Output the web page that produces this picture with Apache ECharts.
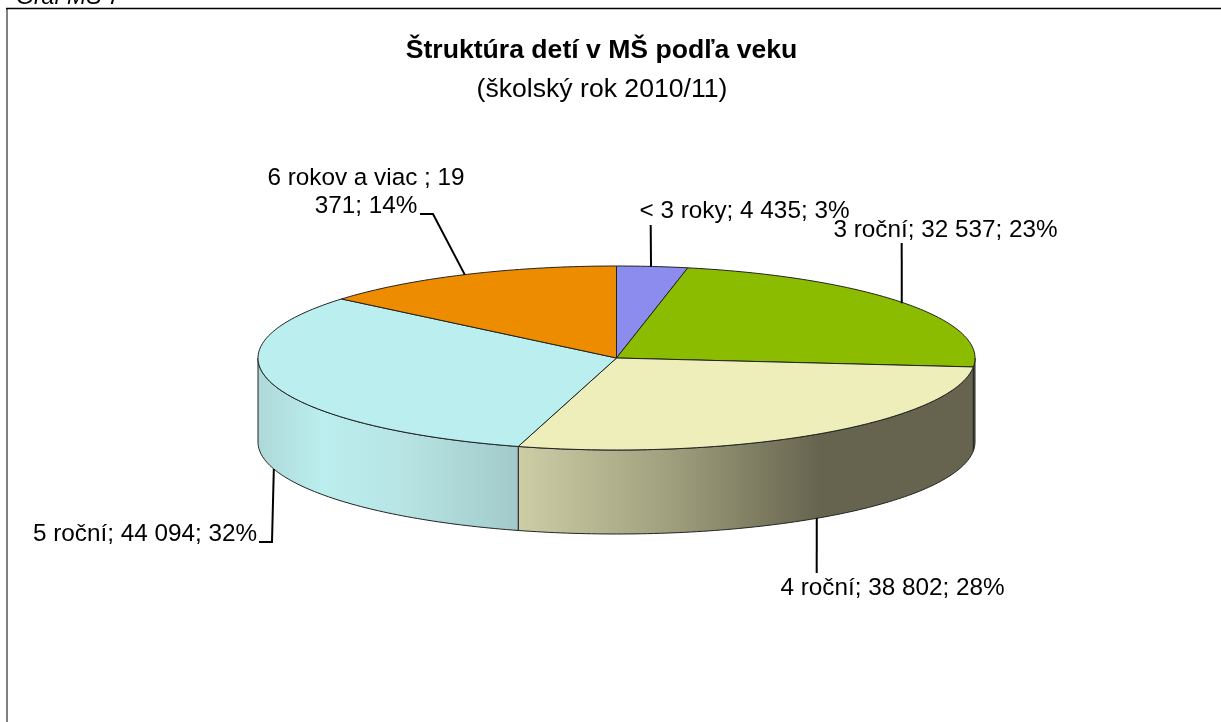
<!DOCTYPE html>
<html>
<head>
<meta charset="utf-8">
<title>Graf MŠ 7</title>
<style>
html,body{margin:0;padding:0;background:#fff;overflow:hidden}
#chart{width:1221px;height:722px}
</style>
<script src="https://cdn.jsdelivr.net/npm/echarts@6/dist/echarts.min.js"></script>
</head>
<body>
<div id="chart"></div>
<script>
var categories = ['< 3 roky', '3 roční', '4 roční', '5 roční', '6 rokov a viac '];
var values = [4435, 32537, 38802, 44094, 19371];
var topColors = ['#8c8cee', '#8cbc00', '#eeeebb', '#bbeeee', '#ee8c00'];

// label box anchor + leader line end, per slice (dx nudges the leader start on the rim)
var labelLayout = [
  {x: 744.5, y: 211, dx: -1.3, lx: [[650.7, 225]]},
  {x: 945.5, y: 230, dx: -3, lx: [[901.7, 243]]},
  {x: 892.5, y: 588, dx: -1.5, lx: [[816.7, 573]]},
  {x: 145, y: 534, dx: 0, lx: [[272, 542], [259, 542]]},
  {x: 366, y: 192, dx: 0, wrap: true, lx: [[433, 214], [420, 214]]}
];

var cx = 616.5, cy = 358, rx = 358.5, ry = 92, depth = 84;
var FONT = '"Liberation Sans", Arial, sans-serif';
var total = values.reduce(function (a, b) { return a + b; }, 0);

function pt(deg, dy) {
  var r = deg * Math.PI / 180;
  return [cx + rx * Math.sin(r), cy - ry * Math.cos(r) + (dy || 0)];
}
function arc(a0, a1, dy) {
  var pts = [], n = Math.max(2, Math.ceil(Math.abs(a1 - a0)));
  for (var i = 0; i <= n; i++) pts.push(pt(a0 + (a1 - a0) * i / n, dy));
  return pts;
}
function sideFill(i) {
  // shading of the outer wall, runs horizontally across the pie
  if (i === 3) {
    return new echarts.graphic.LinearGradient(258, 0, 518, 0, [
      {offset: 0, color: '#aed8d8'}, {offset: 0.25, color: '#bbeeee'},
      {offset: 0.55, color: '#b8e4e4'}, {offset: 1, color: '#a2caca'}
    ], true);
  }
  if (i === 2) {
    return new echarts.graphic.LinearGradient(518, 0, 820, 0, [
      {offset: 0, color: '#cdcda6'}, {offset: 0.5, color: '#a0a07e'}, {offset: 1, color: '#66644e'}
    ], true);
  }
  return '#66644e';
}
function labelText(i) {
  var v = String(values[i]).replace(/\B(?=(\d{3})+$)/g, ' ');
  if (labelLayout[i].wrap) v = v.replace(' ', '\n');
  return categories[i] + '; ' + v + '; ' + Math.round(values[i] / total * 100) + '%';
}

function renderItem(params, api) {
  var i = params.dataIndex;
  var before = values.slice(0, i).reduce(function (a, b) { return a + b; }, 0);
  var a0 = before / total * 360, a1 = a0 + api.value(0) / total * 360, mid = (a0 + a1) / 2;
  var kids = [];
  var s0 = Math.max(a0, 90), s1 = Math.min(a1, 270);
  if (s1 > s0) {
    kids.push({
      type: 'polygon', z2: 1,
      shape: {points: arc(s0, s1, 0).concat(arc(s1, s0, depth))},
      style: {fill: sideFill(i), stroke: '#222', lineWidth: 1}
    });
  }
  kids.push({
    type: 'polygon', z2: 2,
    shape: {points: [[cx, cy]].concat(arc(a0, a1, 0))},
    style: {fill: topColors[i], stroke: '#222', lineWidth: 1}
  });
  var anchor = pt(mid, mid > 90 && mid < 270 ? depth : 0);
  anchor[0] += labelLayout[i].dx;
  kids.push({
    type: 'polyline', z2: 3,
    shape: {points: [anchor].concat(labelLayout[i].lx)},
    style: {fill: null, stroke: '#000', lineWidth: 2}
  });
  kids.push({
    type: 'text', z2: 4,
    x: labelLayout[i].x, y: labelLayout[i].y,
    style: {
      text: labelText(i), fill: '#000', font: '24.3px ' + FONT,
      align: 'center', verticalAlign: 'middle', lineHeight: 28
    }
  });
  return {type: 'group', children: kids};
}

var myChart = echarts.init(document.getElementById('chart'), null, {renderer: 'canvas'});
myChart.setOption({
  animation: false,
  backgroundColor: '#fff',
  title: [
    {text: 'Štruktúra detí v MŠ podľa veku', left: 596.5, top: 32, textAlign: 'center',
      textStyle: {fontFamily: FONT, fontSize: 26.6, fontWeight: 'bold', color: '#000'}},
    {text: '(školský rok 2010/11)', left: 597, top: 71, textAlign: 'center',
      textStyle: {fontFamily: FONT, fontSize: 26.6, fontWeight: 'normal', color: '#000'}}
  ],
  graphic: [
    {type: 'line', shape: {x1: 7, y1: 8.5, x2: 7, y2: 722}, style: {stroke: '#808080', lineWidth: 2}},
    {type: 'line', shape: {x1: 6, y1: 8.5, x2: 1221, y2: 8.5}, style: {stroke: '#000', lineWidth: 1.5}},
    {type: 'text', x: 16, y: -14, style: {text: 'Graf MŠ 7', fill: '#000', font: 'italic 23px ' + FONT}}
  ],
  series: [{
    type: 'custom',
    coordinateSystem: 'none',
    renderItem: renderItem,
    silent: true,
    data: values.map(function (v) { return [v]; })
  }]
});
window.addEventListener('resize', function () { myChart.resize(); });
</script>
</body>
</html>
